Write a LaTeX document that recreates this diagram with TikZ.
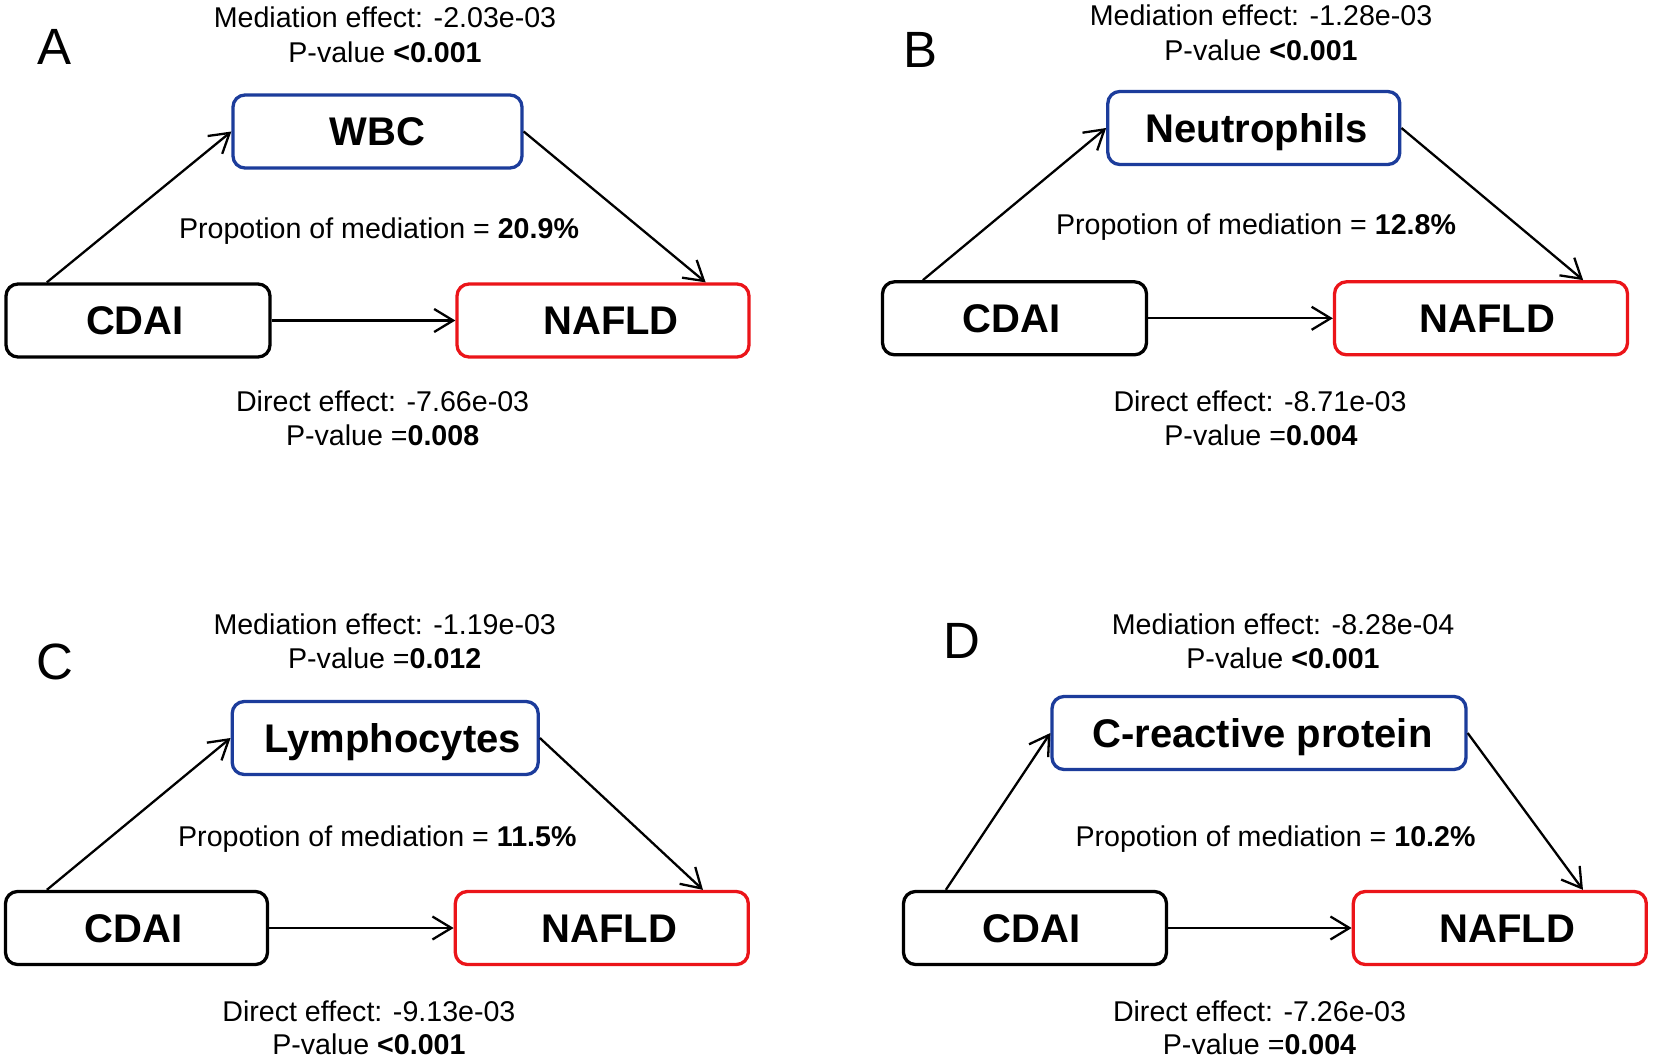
\documentclass[tikz,border=0pt]{standalone}
\usepackage{fontspec}
\setmainfont{Liberation Sans}
\usetikzlibrary{arrows.meta}
\definecolor{mblue}{RGB}{28,60,155}
\definecolor{mred}{RGB}{235,20,25}
\newcommand{\rpad}[2]{\hspace*{#1}#2}
\newcommand{\lpad}[2]{#2\hspace*{#1}}
\begin{document}
\begin{tikzpicture}[x=1pt,y=-1pt,
  box/.style={draw, line width=3.3pt, rounded corners=12pt, minimum height=73pt, inner sep=0pt,
    font=\fontsize{40}{42}\selectfont\bfseries, text height=28.6pt, text depth=0pt},
  xbox/.style={box, draw=black},
  mbox/.style={box, draw=mblue},
  ybox/.style={box, draw=mred},
  lbl/.style={inner sep=0pt, font=\fontsize{28.6}{30}\selectfont, text height=20.5pt, text depth=0pt},
  panel/.style={inner sep=0pt, font=\fontsize{51}{53}\selectfont, text height=37pt, text depth=0pt},
  arr/.style={line width=2.3pt, -{Straight Barb[length=19pt,width=23pt]}}
]
\fill[white] (0,0) rectangle (1653,1059);
\useasboundingbox (0,0) rectangle (1653,1059);

% Panel A
\node[panel] (labA) at (55,46.5) {A};
\node[lbl] (meA) at (385,17.3) {Mediation effect: -2.03e-03};
\node[lbl] (mpA) at (385,52) {P-value \textbf{<0.001}};
\node[mbox, minimum width=289pt] (medA) at (377.5,131.5) {WBC};
\node[xbox, minimum width=264pt] (cdaiA) at (138,320.5) {\lpad{6pt}{CDAI}};
\node[ybox, minimum width=292pt] (nafA) at (603,320.5) {\rpad{16pt}{NAFLD}};
\node[lbl] (prA) at (379,228.3) {Propotion of mediation = \textbf{20.9\%}};
\node[lbl] (deA) at (382.6,401.6) {Direct effect: -7.66e-03};
\node[lbl] (dpA) at (382.6,435.3) {P-value =\textbf{0.008}};
\draw[arr] ([xshift=42.5pt]cdaiA.north west) -- (medA.west);
\draw[arr] (medA.east) -- ([xshift=-45pt]nafA.north east);
\draw[arr] (cdaiA.east) -- (nafA.west);

% Panel B
\node[panel] (labB) at (920,49.5) {B};
\node[lbl] (meB) at (1261,15.5) {Mediation effect: -1.28e-03};
\node[lbl] (mpB) at (1261,50) {P-value \textbf{<0.001}};
\node[mbox, minimum width=292pt] (medB) at (1253.8,128) {\rpad{6pt}{Neutrophils}};
\node[xbox, minimum width=264pt] (cdaiB) at (1014.5,318.3) {\lpad{6pt}{CDAI}};
\node[ybox, minimum width=293pt] (nafB) at (1481,318.3) {\rpad{13pt}{NAFLD}};
\node[lbl] (prB) at (1256,224.5) {Propotion of mediation = \textbf{12.8\%}};
\node[lbl] (deB) at (1260,401.6) {Direct effect: -8.71e-03};
\node[lbl] (dpB) at (1261,435.3) {P-value =\textbf{0.004}};
\draw[arr] ([xshift=42pt]cdaiB.north west) -- (medB.west);
\draw[arr] (medB.east) -- ([xshift=-46pt]nafB.north east);
\draw[arr] (cdaiB.east) -- (nafB.west);

% Panel C
\node[panel] (labC) at (54.8,660.9) {C};
\node[lbl] (meC) at (384.7,624) {Mediation effect: -1.19e-03};
\node[lbl] (mpC) at (384.7,658.5) {P-value =\textbf{0.012}};
\node[mbox, minimum width=306pt] (medC) at (385.2,738) {\rpad{15pt}{Lymphocytes}};
\node[xbox, minimum width=262pt] (cdaiC) at (136.5,928) {\lpad{6pt}{CDAI}};
\node[ybox, minimum width=293pt] (nafC) at (601.8,928) {\rpad{15pt}{NAFLD}};
\node[lbl] (prC) at (377.3,835.8) {Propotion of mediation = \textbf{11.5\%}};
\node[lbl] (deC) at (368.9,1010.8) {Direct effect: -9.13e-03};
\node[lbl] (dpC) at (368.9,1044.5) {P-value \textbf{<0.001}};
\draw[arr] ([xshift=43pt]cdaiC.north west) -- (medC.west);
\draw[arr] (medC.east) -- ([xshift=-47pt]nafC.north east);
\draw[arr] (cdaiC.east) -- (nafC.west);

% Panel D
\node[panel] (labD) at (962.3,639.8) {D};
\node[lbl] (meD) at (1283,624) {Mediation effect: -8.28e-04};
\node[lbl] (mpD) at (1283,658.5) {P-value \textbf{<0.001}};
\node[mbox, minimum width=414pt] (medD) at (1259,733) {\rpad{7pt}{C-reactive protein}};
\node[xbox, minimum width=263pt] (cdaiD) at (1035,928) {\lpad{7pt}{CDAI}};
\node[ybox, minimum width=293pt] (nafD) at (1499.8,928) {\rpad{15pt}{NAFLD}};
\node[lbl] (prD) at (1275.5,835.8) {Propotion of mediation = \textbf{10.2\%}};
\node[lbl] (deD) at (1259.5,1010.8) {Direct effect: -7.26e-03};
\node[lbl] (dpD) at (1259.5,1044.5) {P-value =\textbf{0.004}};
\draw[arr] ([xshift=44pt]cdaiD.north west) -- (medD.west);
\draw[arr] (medD.east) -- ([xshift=-65pt]nafD.north east);
\draw[arr] (cdaiD.east) -- (nafD.west);
\end{tikzpicture}
\end{document}
